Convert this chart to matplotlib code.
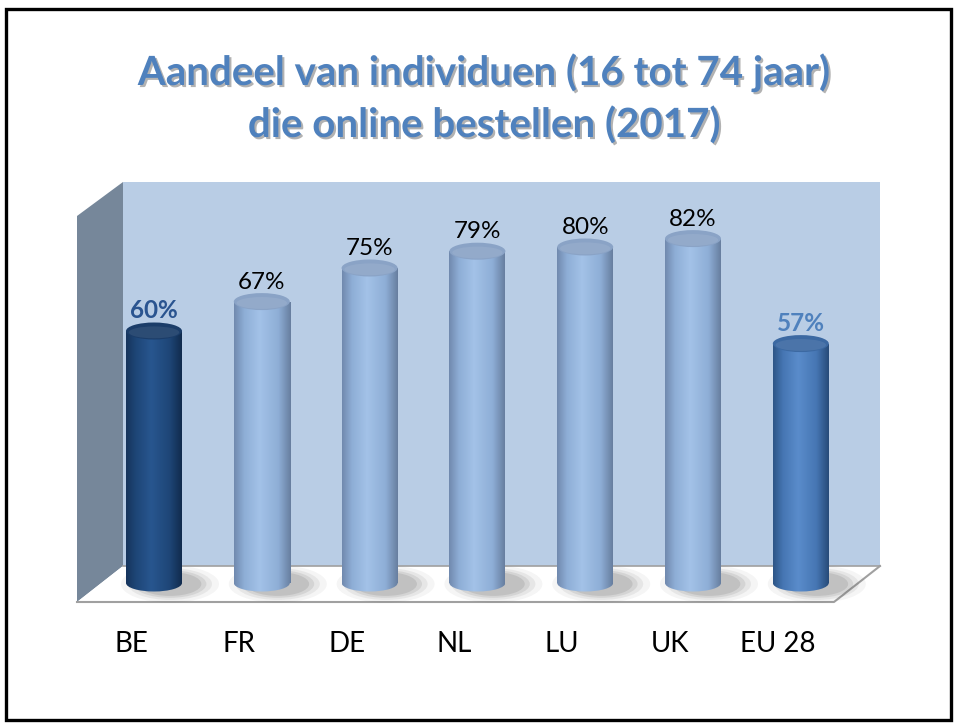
import numpy as np
import matplotlib
matplotlib.use("Agg")
import matplotlib.pyplot as plt
from matplotlib.patches import Polygon, Ellipse, Rectangle
from matplotlib.colors import LinearSegmentedColormap
import matplotlib.patheffects as pe

# ---------------- data ----------------
categories = ["BE", "FR", "DE", "NL", "LU", "UK", "EU 28"]
values = [60, 67, 75, 79, 80, 82, 57]
value_labels = ["60%", "67%", "75%", "79%", "80%", "82%", "57%"]
title_lines = ["Aandeel van individuen (16 tot 74 jaar)", "die online bestellen (2017)"]

# ---------------- styles ----------------
W, H = 956, 724
DPI = 100
X0, DX = 154.0, 107.8      # pixel of first bar centre, bar spacing
Y0, K = 583.0, 4.2         # pixel of baseline, pixels per percent

def dx(px):
    return (px - X0) / DX

def dy(py):
    return (Y0 - py) / K

styles = {
    "dark": dict(edge_l="#16345C", mid="#1E4677", light="#28568F", edge_r="#112B4D", top="#1B3D69",
                 label="#2A5490", weight="bold"),
    "light": dict(edge_l="#7089AE", mid="#8EAED6", light="#A3C2E8", edge_r="#677E9F", top="#8AA3C6",
                  label="black", weight="normal"),
    "eu": dict(edge_l="#2D5586", mid="#4676B3", light="#5A8CCB", edge_r="#274B78", top="#3C69A2",
               label="#4F81BD", weight="bold"),
}
bar_style = ["dark", "light", "light", "light", "light", "light", "eu"]

fig = plt.figure(figsize=(W / DPI, H / DPI), dpi=DPI)
ax = fig.add_axes([0, 0, 1, 1])
ax.set_xlim(dx(0), dx(W))
ax.set_ylim(dy(H), dy(0))
ax.axis("off")

# ---------------- 3D box ----------------
back = Rectangle((dx(123), dy(566)), dx(880) - dx(123), dy(182) - dy(566),
                 facecolor="#B9CDE5", edgecolor="none", zorder=1)
ax.add_patch(back)
left = Polygon([(dx(77), dy(216)), (dx(123), dy(182)), (dx(123), dy(566)), (dx(77), dy(602))],
               closed=True, facecolor="#76879A", edgecolor="none", zorder=1)
ax.add_patch(left)
floor = Polygon([(dx(123), dy(566)), (dx(880), dy(566)), (dx(834), dy(602)), (dx(77), dy(602))],
                closed=True, facecolor="white", edgecolor="none", zorder=1.5)
ax.add_patch(floor)
ax.plot([dx(123), dx(880)], [dy(566), dy(566)], color="#A0A0A0", lw=1.2, zorder=1.6)
ax.plot([dx(77), dx(834), dx(880)], [dy(602), dy(602), dy(566)], color="#A0A0A0", lw=1.5, zorder=1.6)

# ---------------- cylinders ----------------
x = np.arange(len(categories))
bw = 56.0 / DX
eh = 17.0 / K
bars = ax.bar(x, values, width=bw, bottom=0, color="none", edgecolor="none", zorder=3)

grad = np.linspace(0, 1, 256).reshape(1, -1)
for i, (b, v) in enumerate(zip(bars, values)):
    st = styles[bar_style[i]]
    cmap = LinearSegmentedColormap.from_list(
        "c%d" % i,
        [(0.0, st["edge_l"]), (0.18, st["mid"]), (0.45, st["light"]),
         (0.78, st["mid"]), (1.0, st["edge_r"])])
    xc = b.get_x() + b.get_width() / 2
    # floor shadow
    for s, a in [(1.75, 0.06), (1.5, 0.09), (1.3, 0.12), (1.12, 0.15)]:
        sh = Ellipse((xc + 16.0 / DX, -1.0 / K), bw * s, eh * s * 1.25,
                     facecolor="#555555", edgecolor="none", alpha=a, zorder=2)
        ax.add_patch(sh)
    # bottom half-ellipse + body with gradient
    bot = Ellipse((xc, 0), bw, eh, facecolor="none", edgecolor="none", zorder=3)
    ax.add_patch(bot)
    im1 = ax.imshow(grad, cmap=cmap, aspect="auto", interpolation="bilinear",
                    extent=(b.get_x(), b.get_x() + bw, -eh, v), zorder=3)
    im1.set_clip_path(bot)
    im2 = ax.imshow(grad, cmap=cmap, aspect="auto", interpolation="bilinear",
                    extent=(b.get_x(), b.get_x() + bw, 0, v), zorder=3.1)
    im2.set_clip_path(b)
    # top ellipse
    top = Ellipse((xc, v), bw, eh, facecolor=st["top"], edgecolor="none", zorder=4)
    ax.add_patch(top)
    hl = Ellipse((xc, v - eh * 0.08), bw * 0.9, eh * 0.7, facecolor="white", edgecolor="none",
                 alpha=0.08, zorder=4.1)
    ax.add_patch(hl)
    # value label
    ax.text(xc, v + 13.0 / K, value_labels[i], ha="center", va="baseline",
            fontsize=17.5, fontfamily="Lato", fontweight=st["weight"], color=st["label"], zorder=5)
    # category label
    ax.text(xc - 23.0 / DX, dy(652), categories[i], ha="center", va="baseline",
            fontsize=20, fontfamily="Lato", color="black", zorder=5)

# ---------------- title ----------------
shadow = [pe.SimplePatchShadow(offset=(1.5, -1.5), shadow_rgbFace="#7F7F7F", alpha=0.6), pe.Normal()]
for line, base in zip(title_lines, [85, 137]):
    fig.text(484 / W, 1 - base / H, line, ha="center", va="baseline", fontsize=29,
             fontfamily="Lato", fontweight="bold", color="#4F81BD", path_effects=shadow)

# ---------------- border ----------------
fig.add_artist(Rectangle((5.5 / W, 1 - 719.5 / H), 945 / W, 711 / H, transform=fig.transFigure,
                         facecolor="none", edgecolor="black", lw=2.4))

fig.savefig("out.png", dpi=DPI)
